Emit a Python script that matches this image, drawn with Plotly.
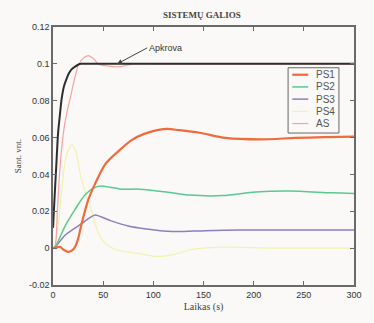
import plotly.graph_objects as go

# ---- data ----
t_load = [0, 1.7, 3.4, 5, 7, 8.6, 11, 13.6, 16, 18.5, 22, 25, 28, 32, 300]
load = [0.011, 0.029, 0.046, 0.062, 0.073, 0.081, 0.088, 0.092, 0.095, 0.097, 0.0985, 0.0995, 0.1, 0.1, 0.1]

t_as = [0, 2, 4.5, 7, 11, 14, 17, 22, 25, 30, 35, 40, 45, 55, 67, 80, 100, 300]
as_ = [0.0, 0.001, 0.022, 0.044, 0.065, 0.074, 0.081, 0.093, 0.099, 0.103, 0.1045, 0.103, 0.1, 0.0988, 0.0985, 0.1, 0.1, 0.1]

t_ps1 = [0, 2, 7, 11, 15, 19, 22, 25, 28, 35, 42, 52, 65, 78, 91, 113, 126, 146, 172, 206, 242, 270, 300]
ps1 = [0.0, 0.0003, 0.0007, -0.001, -0.002, -0.0012, 0.0007, 0.005, 0.012, 0.026, 0.035, 0.0455, 0.0525, 0.0585, 0.062, 0.0647, 0.064, 0.0626, 0.0598, 0.059, 0.0598, 0.0602, 0.0605]

t_ps2 = [0, 2, 12, 22, 32, 42, 48, 68, 86, 113, 136, 169, 202, 235, 278, 300]
ps2 = [0.0, 0.0005, 0.012, 0.021, 0.029, 0.033, 0.0337, 0.032, 0.032, 0.0305, 0.0288, 0.0285, 0.0305, 0.031, 0.030, 0.0297]

t_ps3 = [0, 2, 12, 25, 38, 42, 58, 75, 91, 119, 152, 186, 240, 300]
ps3 = [0.0, 0.0005, 0.007, 0.012, 0.017, 0.018, 0.0148, 0.012, 0.0105, 0.009, 0.0095, 0.0098, 0.0098, 0.0098]

t_ps4 = [0, 2, 5, 8.6, 12, 16, 19, 23, 28, 38, 45, 52, 64, 86, 103, 120, 136, 169, 218, 260, 300]
ps4 = [0.0, 0.001, 0.012, 0.03, 0.047, 0.054, 0.056, 0.052, 0.038, 0.021, 0.0085, 0.0026, -0.001, -0.003, -0.0045, -0.0035, -0.001, 0.0005, 0.0, 0.0, 0.0]

x_ticks = [0, 50, 100, 150, 200, 250, 300]
y_ticks = [-0.02, 0, 0.02, 0.04, 0.06, 0.08, 0.1, 0.12]
y_tick_text = ["-0.02", "0", "0.02", "0.04", "0.06", "0.08", "0.1", "0.12"]

legend_names = ["PS1", "PS2", "PS3", "PS4", "AS"]

colors = {"PS1": "#f06a3a", "PS2": "#5ac98c", "PS3": "#8c7fbd", "PS4": "#f2f2b0", "AS": "#f4a4a0"}
widths = {"PS1": 2.2, "PS2": 1.5, "PS3": 1.5, "PS4": 1.2, "AS": 1.2}
data = {"PS1": (t_ps1, ps1), "PS2": (t_ps2, ps2), "PS3": (t_ps3, ps3), "PS4": (t_ps4, ps4), "AS": (t_as, as_)}

fig = go.Figure()
for name in ["PS4", "AS", "PS3", "PS2", "PS1"]:
    tx, ty = data[name]
    fig.add_trace(go.Scatter(x=tx, y=ty, mode="lines", name=name, showlegend=False,
                             line=dict(color=colors[name], width=widths[name], shape="spline", smoothing=0.8)))

fig.add_trace(go.Scatter(x=t_load, y=load, mode="lines", name="Apkrova", showlegend=False,
                         line=dict(color="#2e2e2e", width=2, shape="spline", smoothing=0.8)))

# ---- manual legend box (paper coordinates) ----
lx0, lx1, ly0, ly1 = 0.781, 0.950, 0.589, 0.842
shapes = [dict(type="rect", xref="paper", yref="paper", x0=lx0, x1=lx1, y0=ly0, y1=ly1,
               line=dict(color="#666", width=1), fillcolor="#faf9f7", layer="above")]
annotations = []
row_top, row_step = 0.815, 0.0473
for i, name in enumerate(legend_names):
    yy = row_top - i * row_step
    shapes.append(dict(type="line", xref="paper", yref="paper", x0=0.795, x1=0.848, y0=yy, y1=yy,
                       line=dict(color=colors[name], width=widths[name]), layer="above"))
    annotations.append(dict(x=0.866, y=yy, xref="paper", yref="paper", text=name, showarrow=False,
                            xanchor="left", yanchor="middle",
                            font=dict(family="Liberation Sans, Arial", size=10, color="#555")))

annotations.append(dict(x=64, y=0.1, xref="x", yref="y", text="Apkrova", showarrow=True,
                        arrowhead=2, arrowsize=1, arrowwidth=1, arrowcolor="#444",
                        ax=30, ay=-16, xanchor="left",
                        font=dict(family="Liberation Sans, Arial", size=9, color="#333")))

axis_common = dict(showgrid=False, zeroline=False, showline=True, mirror="ticks",
                   linecolor="#6a6a6a", linewidth=1.5, ticks="inside", ticklen=4,
                   tickcolor="#6a6a6a", tickfont=dict(family="Liberation Sans, Arial", size=9, color="#333"))

fig.update_layout(
    width=374, height=323,
    margin=dict(l=53, r=19, t=27, b=31),
    paper_bgcolor="#faf9f7", plot_bgcolor="#faf9f7",
    showlegend=False,
    title=dict(text="<b>SISTEMŲ GALIOS</b>", x=0.54, xanchor="center", y=0.955, yanchor="middle",
               font=dict(family="Liberation Serif, Times New Roman", size=9, color="#444")),
    xaxis=dict(range=[0, 300], tickvals=x_ticks, **axis_common,
               title=dict(text="Laikas (s)", standoff=4,
                          font=dict(family="Liberation Serif, Times New Roman", size=10, color="#444"))),
    yaxis=dict(range=[-0.02, 0.12], tickvals=y_ticks, ticktext=y_tick_text, **axis_common,
               title=dict(text="Sant. vnt.", standoff=6,
                          font=dict(family="Liberation Serif, Times New Roman", size=9, color="#444"))),
    shapes=shapes,
    annotations=annotations,
)

fig.write_html("out.html")
